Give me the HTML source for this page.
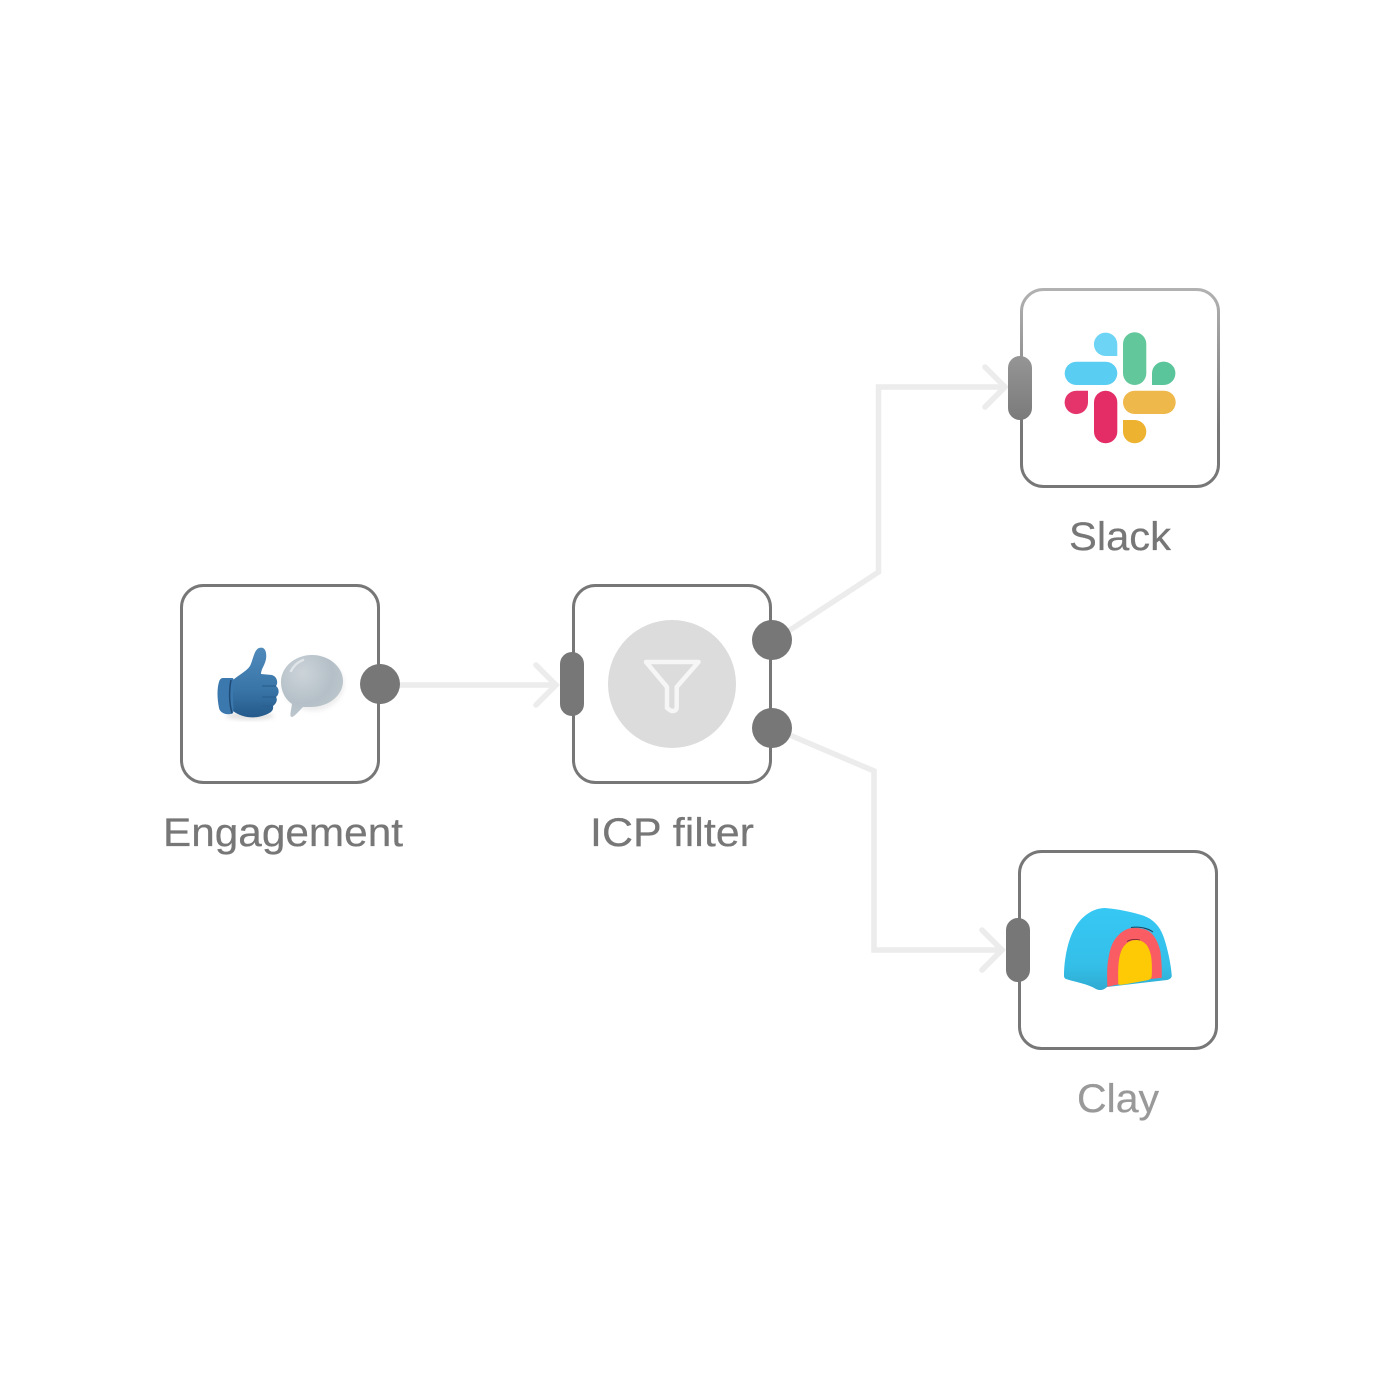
<!DOCTYPE html>
<html lang="en">
<head>
<meta charset="utf-8">
<title>Workflow diagram</title>
<style>
html,body{margin:0;padding:0;background:#fff;width:1400px;height:1400px;overflow:hidden}
svg{display:block}
text{font-family:"Liberation Sans",sans-serif;font-size:40px;fill:#777;stroke:#777;stroke-width:.25}
</style>
</head>
<body>
<svg xmlns="http://www.w3.org/2000/svg" width="1400" height="1400" viewBox="0 0 1400 1400">
<defs>
<linearGradient id="sl" gradientUnits="userSpaceOnUse" x1="0" y1="288" x2="0" y2="488"><stop offset="0" stop-color="#b2b2b2"/><stop offset="0.7" stop-color="#777"/><stop offset="1" stop-color="#777"/></linearGradient>
<linearGradient id="hand" x1="0" y1="0" x2="0" y2="1"><stop offset="0" stop-color="#4f8abb"/><stop offset="0.6" stop-color="#3a75a8"/><stop offset="1" stop-color="#24598b"/></linearGradient>
<radialGradient id="bub" cx="0.35" cy="0.3" r="0.8"><stop offset="0" stop-color="#ccd4d9"/><stop offset="0.6" stop-color="#b4bfc7"/><stop offset="1" stop-color="#bfc8ce"/></radialGradient>
<linearGradient id="clayb" x1="0" y1="0" x2="0" y2="1"><stop offset="0" stop-color="#36c8f4"/><stop offset="0.7" stop-color="#34bfe8"/><stop offset="1" stop-color="#2fabd2"/></linearGradient>
<filter id="blur" x="-20%" y="-20%" width="140%" height="140%"><feGaussianBlur stdDeviation="2"/></filter>
</defs>
<rect width="1400" height="1400" fill="#fff"/>

<!-- connectors -->
<g fill="none" stroke="#ececec" stroke-width="5.5" stroke-linecap="round" stroke-linejoin="miter">
<path d="M400 685H556"/>
<path d="M536 665L556 685L536 705"/>
<path d="M790 630L878.500 572V387H1005"/>
<path d="M985 367L1005 387L985 407"/>
<path d="M792 736L874 771V950H1002"/>
<path d="M982 930L1002 950L982 970"/>
</g>

<!-- boxes -->
<g fill="#fff" stroke="#777" stroke-width="3">
<rect x="181.500" y="585.500" width="197" height="197" rx="22"/>
<rect x="573.500" y="585.500" width="197" height="197" rx="22"/>
<rect x="1019.500" y="851.500" width="197" height="197" rx="22"/>
<rect x="1021.500" y="289.500" width="197" height="197" rx="22" stroke="url(#sl)"/>
</g>

<!-- ports -->
<g fill="#777">
<circle cx="380" cy="684" r="20"/>
<circle cx="772" cy="640" r="20"/>
<circle cx="772" cy="728" r="20"/>
<rect x="560" y="652" width="24" height="64" rx="12"/>
<rect x="1006" y="918" width="24" height="64" rx="12"/>
<rect x="1008" y="356" width="24" height="64" rx="12" fill="url(#sl)"/>
</g>

<!-- filter icon -->
<circle cx="672" cy="684" r="64" fill="#dcdcdc"/>
<path d="M646 662H698.500L676.700 687V707Q676.700 711 672.500 711Q671 711 669 709.500L667 708V687Z" fill="none" stroke="#f6f6f6" stroke-width="4.500" stroke-linejoin="round"/>

<!-- thumb -->
<ellipse cx="250" cy="716" rx="24" ry="4" fill="#aaa" opacity=".35" filter="url(#blur)"/>
<path d="M232 681C238 675 246 672 250 666C253 660 254 650 259 648C265 646 267 652 266 659C265 665 261 669 261 674L272 675C278 677 278 684 276 686C280 689 279 695 276 697C278 700 276 704 273 706C274 711 270 713 265 715C255 719 242 718 233 711Z" fill="url(#hand)"/>
<path d="M223 678H232C235 678 233 682 233 695C233 708 235 714 231 714C226 715 220 713 219 708C217 698 217 688 219 682Q220 678 223 678Z" fill="#3b78ae"/>
<path d="M231 680C229 690 229 703 232 713" fill="none" stroke="#1f4a75" stroke-width="1.500"/>
<path d="M262 686L276 686M262 697L276 697M262 706L273 706" stroke="#2a5f91" stroke-width="1.200"/>

<!-- bubble -->
<ellipse cx="313" cy="684" rx="31" ry="27" fill="#ddd" opacity=".5" filter="url(#blur)"/>
<path d="M312 655C329 655 343 667 343 681C343 696 328 707 311 707C308 707 305 707 303 707C299 711 295 716 292 717C289 717 291 711 292 704C285 699 281 691 281 682C281 667 295 655 312 655Z" fill="url(#bub)"/>
<path d="M291 671C294 665 298 662 303 660" fill="none" stroke="#dfe5e8" stroke-width="2.500" stroke-linecap="round"/>

<!-- slack -->
<path d="M1117.300 356H1105.700A11.700 11.700 0 1 1 1117.300 344.300Z" fill="#6dd4f6"/>
<rect x="1064.700" y="361.700" width="52.600" height="23.300" rx="11.650" fill="#5acdf3"/>
<rect x="1123" y="332.300" width="23.300" height="52.700" rx="11.650" fill="#62c89c"/>
<path d="M1152 385V373.400A11.700 11.700 0 1 1 1163.700 385Z" fill="#5ac49a"/>
<path d="M1088 390.700V402.300A11.700 11.700 0 1 1 1076.300 390.700Z" fill="#e5346c"/>
<rect x="1094" y="390.700" width="23.300" height="52.600" rx="11.650" fill="#e42c66"/>
<rect x="1123" y="390.700" width="52.700" height="23.300" rx="11.650" fill="#efb84a"/>
<path d="M1123 420H1134.600A11.650 11.650 0 1 1 1123 431.650Z" fill="#edb22f"/>

<!-- clay -->
<path d="M1064 976C1064 962 1067 940 1076 926C1083 915 1094 908 1105 908C1118 909 1132 912 1143 915.500C1153 919 1160 926 1164 938C1168 950 1171 965 1171.700 975C1172 978 1170 979 1167 980L1107 987C1104 990 1100 991 1096 989C1088 984 1075 982 1066 979Q1064 978 1064 976Z" fill="url(#clayb)"/>
<path d="M1107.300 986.700C1107 975 1107 965 1108.500 958C1110 948 1113 941 1117 936.700C1122 931 1127 928 1134 928C1141 928 1146 929 1150 932C1156 937 1159 945 1160.500 952C1161.500 960 1162 970 1161.700 977.700L1151 979L1118 984.500Z" fill="#f95c62"/>
<path d="M1118.300 984C1118 975 1118 965 1119.300 958C1120.500 952 1122 948 1125 945C1128 941.500 1132 940 1136.700 940C1140.500 940 1144 942 1146.700 945C1150 950 1151.500 956 1151.700 962C1152 968 1152 972 1151.700 976C1151.500 979 1149 980 1146 980.500L1124 984.500C1120.500 985 1118.300 985 1118.300 984Z" fill="#fdca05"/>
<path d="M1131 927.500C1138 926.500 1147 927.500 1153 932" fill="none" stroke="#1d3f5c" stroke-width="1"/>
<path d="M1127 941.500C1130 939.500 1135 939 1140 940" fill="none" stroke="#7a2a35" stroke-width=".8"/>

<!-- labels -->
<text x="163" y="846" textLength="240" lengthAdjust="spacingAndGlyphs">Engagement</text>
<text x="590" y="846" textLength="164" lengthAdjust="spacingAndGlyphs">ICP filter</text>
<text x="1069" y="550" textLength="102" lengthAdjust="spacingAndGlyphs">Slack</text>
<text x="1077" y="1112" textLength="82" lengthAdjust="spacingAndGlyphs" style="fill:#999;stroke:#999">Clay</text>
</svg>
</body>
</html>
